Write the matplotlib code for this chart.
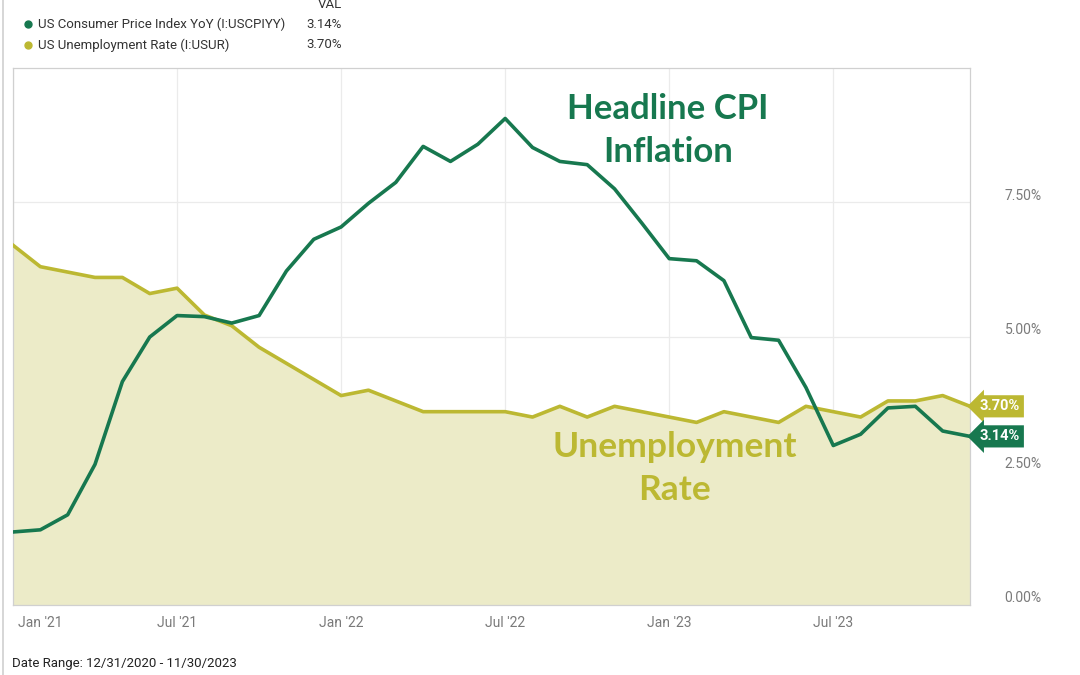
import matplotlib.pyplot as plt
from matplotlib.lines import Line2D
import matplotlib.transforms as mtransforms

plt.rcParams['font.family'] = ['Roboto', 'DejaVu Sans']

# monthly, Dec 2020 .. Nov 2023
cpi = [1.36, 1.40, 1.68, 2.62, 4.16, 4.99, 5.39, 5.37, 5.25, 5.39, 6.22, 6.81,
       7.04, 7.48, 7.87, 8.54, 8.26, 8.58, 9.06, 8.52, 8.26, 8.20, 7.75, 7.11,
       6.45, 6.41, 6.04, 4.98, 4.93, 4.05, 2.97, 3.18, 3.67, 3.70, 3.24, 3.14]
unrate = [6.7, 6.3, 6.2, 6.1, 6.1, 5.8, 5.9, 5.4, 5.2, 4.8, 4.5, 4.2,
          3.9, 4.0, 3.8, 3.6, 3.6, 3.6, 3.6, 3.5, 3.7, 3.5, 3.7, 3.6,
          3.5, 3.4, 3.6, 3.5, 3.4, 3.7, 3.6, 3.5, 3.8, 3.8, 3.9, 3.7]
tick_pos = [0, 6, 12, 18, 24, 30]
tick_labels = ["Jan '21", "Jul '21", "Jan '22", "Jul '22", "Jan '23", "Jul '23"]
y_ticks = [0, 2.5, 5, 7.5]
y_labels = ["0.00%", "2.50%", "5.00%", "7.50%"]

green = '#17784f'
olive = '#bcb832'
fill_c = '#ecebc8'
grey = '#7a7a7a'

x = list(range(len(cpi)))

fig = plt.figure(figsize=(10.8, 6.75), dpi=100)
ax = fig.add_axes([13/1080, 1-605/675, (970-13)/1080, (605-68)/675])

ax.fill_between(x, unrate, 0, color=fill_c, lw=0, zorder=1)
ax.plot(x, unrate, color=olive, lw=2.6, zorder=3, solid_joinstyle='round')
ax.plot(x, cpi, color=green, lw=2.6, zorder=4, solid_joinstyle='round')

ax.set_xlim(0, len(cpi) - 1)
ax.set_ylim(0, 10)
ax.set_xticks(tick_pos)
ax.set_xticklabels(tick_labels, color=grey, fontsize=10)
ax.set_yticks(y_ticks)
ax.set_yticklabels(y_labels, color=grey, fontsize=10)
ax.yaxis.tick_right()
ax.tick_params(length=0, axis='y', pad=25)
ax.tick_params(length=0, axis='x', pad=8)
ax.grid(True, color='#ebebeb', lw=0.9, zorder=0)
ax.set_axisbelow(True)
for s in ax.spines.values():
    s.set_color('#d0d0d0')
    s.set_linewidth(0.9)

# first x label sits inside the plot, y labels sit a bit above their gridlines
first = ax.get_xticklabels()[0]
first.set_transform(first.get_transform() + mtransforms.ScaledTranslation(27/100, 0, fig.dpi_scale_trans))
for lab in ax.get_yticklabels():
    lab.set_transform(lab.get_transform() + mtransforms.ScaledTranslation(0, 8/100, fig.dpi_scale_trans))

# value tags on the right
trans = mtransforms.blended_transform_factory(ax.transAxes, ax.transData)
ax.text(1.01, unrate[-1], "%.2f%%" % unrate[-1], transform=trans, color='white',
        fontsize=10.5, fontweight='bold', va='center', ha='left',
        bbox=dict(boxstyle='larrow,pad=0.28', fc=olive, ec='none'))
ax.text(1.01, cpi[-1], "%.2f%%" % cpi[-1], transform=trans, color='white',
        fontsize=10.5, fontweight='bold', va='center', ha='left',
        bbox=dict(boxstyle='larrow,pad=0.28', fc=green, ec='none'))

# annotations
ax.text(23.96, 8.84, "Headline CPI\nInflation", color=green, fontsize=25,
        fontweight='bold', ha='center', va='center', family=['Lato', 'DejaVu Sans'],
        linespacing=1.42)
ax.text(24.2, 2.54, "Unemployment\nRate", color=olive, fontsize=25.5,
        fontweight='bold', ha='center', va='center', family=['Lato', 'DejaVu Sans'],
        linespacing=1.42)

# legend header
fig.text(342/1080, 1-5/675, "VAL", color='#333333', fontsize=9.5, ha='right', va='center')
fig.text(342/1080, 1-24/675, "%.2f%%" % cpi[-1], color='#333333', fontsize=9.5, ha='right', va='center')
fig.text(342/1080, 1-45/675, "%.2f%%" % unrate[-1], color='#333333', fontsize=9.5, ha='right', va='center')
fig.text(38/1080, 1-24/675, "US Consumer Price Index YoY (I:USCPIYY)", color='#333333', fontsize=9.5, va='center')
fig.text(38/1080, 1-45/675, "US Unemployment Rate (I:USUR)", color='#333333', fontsize=9.5, va='center')
fig.add_artist(Line2D([28/1080], [1-24/675], marker='o', ms=5, color=green, lw=0))
fig.add_artist(Line2D([28/1080], [1-45/675], marker='o', ms=5, color=olive, lw=0))

fig.text(12/1080, 1-663/675, "Date Range: 12/31/2020 - 11/30/2023", color='#222222',
         fontsize=9.5, va='center')
fig.add_artist(Line2D([3/1080, 3/1080], [0, 1], color='#d0d0d0', lw=1.2))

fig.savefig('out.png', dpi=100)
